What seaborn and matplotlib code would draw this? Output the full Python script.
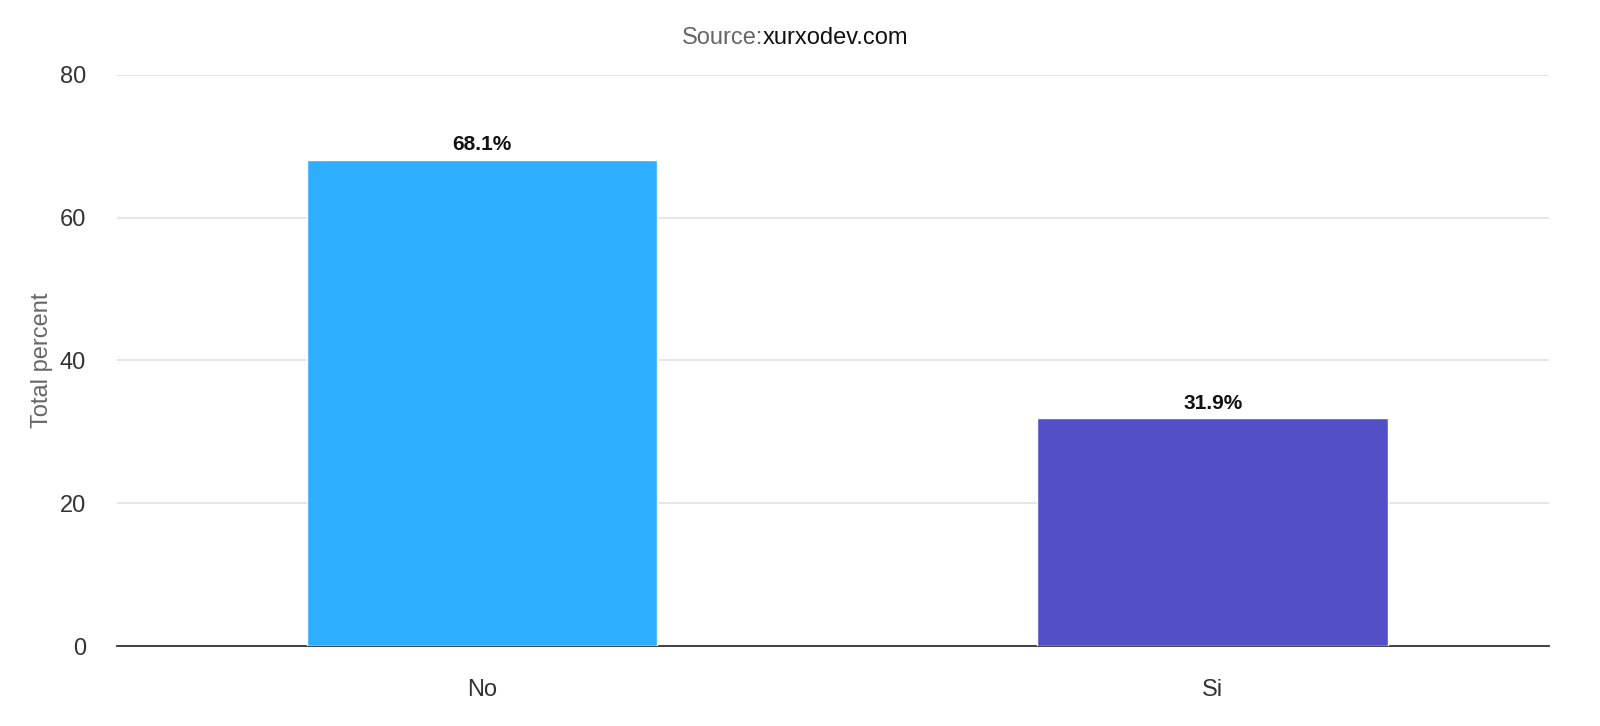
import matplotlib
matplotlib.use("Agg")
import matplotlib.pyplot as plt
import seaborn as sns
import pandas as pd

CATEGORIES = ["No", "Si"]
PERCENTS = [68.1, 31.9]
BAR_COLORS = ["#2DAEFE", "#534FC6"]
Y_TICKS = [0, 20, 40, 60, 80]


def main() -> None:
    sns.set_theme(style="white")
    plt.rcParams["font.family"] = ["Liberation Sans", "DejaVu Sans"]

    df = pd.DataFrame({"answer": CATEGORIES, "percent": PERCENTS})

    fig = plt.figure(figsize=(16, 7.26), dpi=100)
    ax = fig.add_axes([0.073, 0.110, 0.895, 0.787])

    sns.barplot(
        data=df,
        x="answer",
        y="percent",
        hue="answer",
        palette=BAR_COLORS,
        saturation=1,
        width=0.48,
        legend=False,
        ax=ax,
        zorder=3,
    )

    for patch, value in zip(ax.patches, PERCENTS):
        ax.annotate(
            f"{value}%",
            (patch.get_x() + patch.get_width() / 2, patch.get_height()),
            xytext=(0, 4),
            textcoords="offset points",
            ha="center",
            va="bottom",
            fontsize=15,
            fontweight="bold",
            color="#111111",
        )

    ax.set_xlim(-0.5, 1.46)
    ax.set_ylim(0, 80)
    ax.set_yticks(Y_TICKS)
    ax.yaxis.grid(True, color="#e2e2e2", linewidth=1.2, zorder=0)
    ax.set_axisbelow(True)
    for side in ["top", "right", "left"]:
        ax.spines[side].set_visible(False)
    ax.spines["bottom"].set_color("#333333")
    ax.spines["bottom"].set_linewidth(1.3)

    ax.tick_params(axis="y", length=0, pad=22, labelsize=17, labelcolor="#333333")
    ax.tick_params(axis="x", length=0, pad=24, labelsize=17, labelcolor="#333333")
    ax.set_xlabel("")
    ax.set_ylabel("Total percent", fontsize=17, color="#666666", labelpad=5)

    fig.text(0.477, 0.947, "Source:", ha="right", va="center", fontsize=17, color="#666666")
    fig.text(0.477, 0.947, "xurxodev.com", ha="left", va="center", fontsize=17, color="#111111")

    fig.savefig("out.png", dpi=100)
    plt.close(fig)


if __name__ == "__main__":
    main()
